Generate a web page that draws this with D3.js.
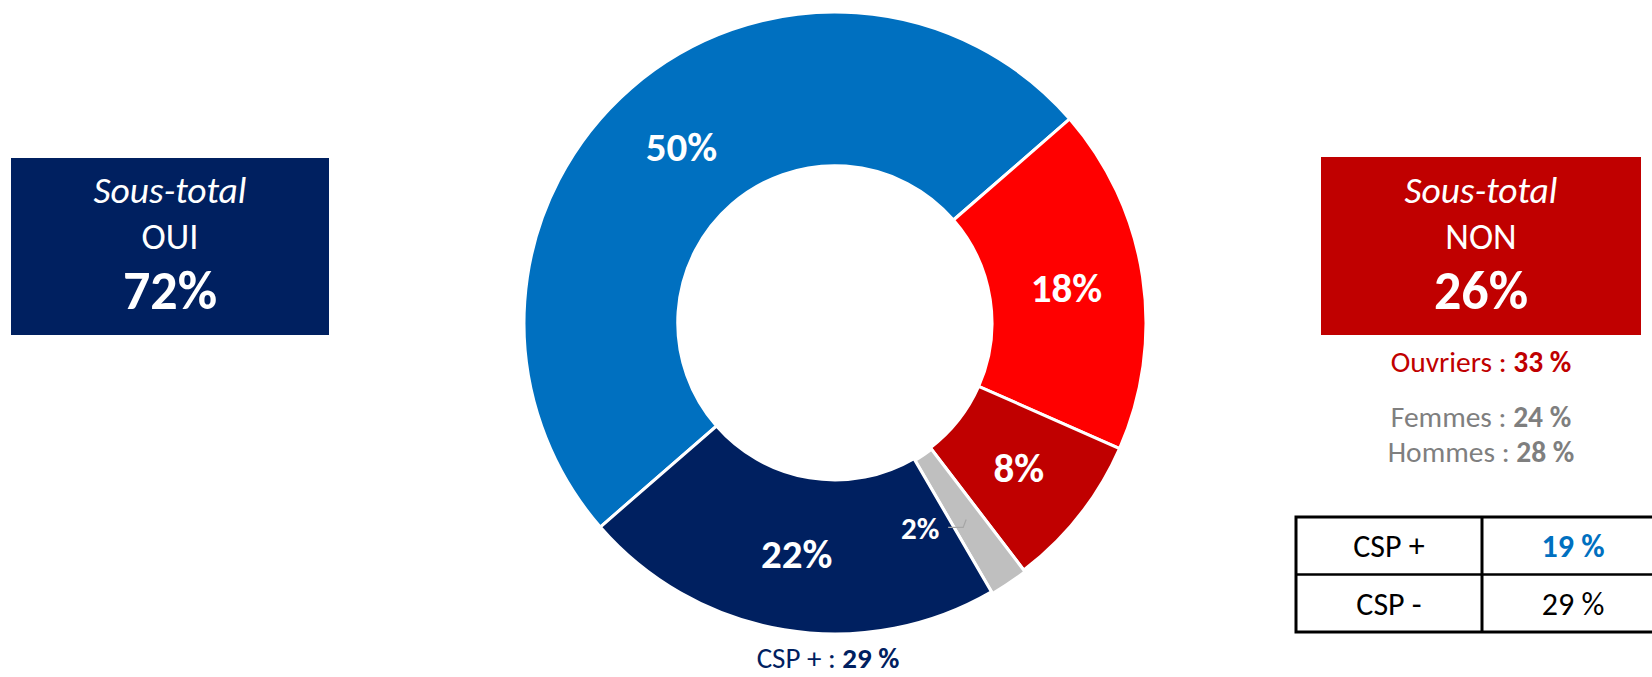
<!DOCTYPE html>
<html>
<head>
<meta charset="utf-8">
<script src="https://cdn.jsdelivr.net/npm/d3@7"></script>
<style>
  body { margin: 0; background: #fff; }
  svg { display: block; font-family: Carlito, Calibri, Lato, sans-serif; }
</style>
</head>
<body>
<div id="chart"></div>
<script>
'use strict';

// slice values (%), clockwise from the lower-left edge of the 50% slice
var sliceKeys = ["oui_1", "non_1", "non_2", "nsp", "oui_2"];
var sliceValues = [50, 18, 8, 2, 22];
var sliceColors = ["#0070C0", "#FF0000", "#C00000", "#BFBFBF", "#002060"];

// sub-totals
var subtotalLabels = ["OUI", "NON"];
var subtotalValues = [72, 26];

// details under NON box
var detailLabels = ["Ouvriers", "Femmes", "Hommes"];
var detailValues = [33, 24, 28];

// CSP table
var cspLabels = ["CSP +", "CSP -"];
var cspValues = [19, 29];

// note under the donut
var noteLabel = "CSP +";
var noteValue = 29;

var width = 1652, height = 677;
var cx = 835, cy = 323, outerR = 311, innerR = 157;

var svg = d3.select("#chart").append("svg")
    .attr("width", width)
    .attr("height", height);

// donut
var start = -131 * Math.PI / 180;
var pie = d3.pie().sort(null).value(function (d) { return d; })
    .startAngle(start).endAngle(start + 2 * Math.PI);
var arc = d3.arc().innerRadius(innerR).outerRadius(outerR);

var arcs = pie(sliceValues);
var g = svg.append("g").attr("transform", "translate(" + cx + "," + cy + ")");

g.selectAll("path.slice")
    .data(arcs)
    .enter().append("path")
    .attr("class", "slice")
    .attr("d", arc)
    .attr("transform", function (d, i) {
        if (sliceKeys[i] !== "nsp") return null;
        var a = (d.startAngle + d.endAngle) / 2;
        return "translate(" + (2 * Math.sin(a)) + "," + (-2 * Math.cos(a)) + ")";
    })
    .attr("fill", function (d, i) { return sliceColors[i]; })
    .attr("stroke", "#fff")
    .attr("stroke-width", 3);

// slice labels
arcs.forEach(function (d, i) {
    var c = arc.centroid(d);
    if (sliceKeys[i] === "nsp") {
        g.append("polyline")
            .attr("points", [[c[0] - 17, c[1] + 10], [c[0] - 2, c[1] + 10], [c[0] + 1, c[1] + 2]].join(" "))
            .attr("fill", "none")
            .attr("stroke", "#A6A6A6")
            .attr("stroke-width", 1.2);
        g.append("text")
            .attr("x", c[0] - 45).attr("y", c[1] + 11)
            .attr("dy", "0.35em")
            .attr("text-anchor", "middle")
            .attr("fill", "#fff")
            .attr("font-weight", "bold")
            .attr("font-size", 31)
            .text(sliceValues[i] + "%");
    } else {
        g.append("text")
            .attr("x", c[0]).attr("y", c[1])
            .attr("dy", "0.35em")
            .attr("text-anchor", "middle")
            .attr("fill", "#fff")
            .attr("font-weight", "bold")
            .attr("font-size", 41)
            .text(sliceValues[i] + "%");
    }
});

// sub-total boxes
var boxes = [
    { x: 11, y: 158, w: 318, h: 177, fill: "#002060" },
    { x: 1321, y: 157, w: 320, h: 178, fill: "#C00000" }
];
boxes.forEach(function (b, i) {
    var mx = b.x + b.w / 2;
    svg.append("rect")
        .attr("x", b.x).attr("y", b.y)
        .attr("width", b.w).attr("height", b.h)
        .attr("fill", b.fill);
    svg.append("text")
        .attr("x", mx).attr("y", 203)
        .attr("text-anchor", "middle")
        .attr("fill", "#fff")
        .attr("font-style", "italic")
        .attr("font-size", 37.5)
        .text("Sous-total");
    svg.append("text")
        .attr("x", mx).attr("y", 249)
        .attr("text-anchor", "middle")
        .attr("fill", "#fff")
        .attr("font-size", 36.5)
        .text(subtotalLabels[i]);
    svg.append("text")
        .attr("x", mx).attr("y", 309)
        .attr("text-anchor", "middle")
        .attr("fill", "#fff")
        .attr("font-weight", "bold")
        .attr("font-size", 54)
        .text(subtotalValues[i] + "%");
});

// detail lines under NON
var detailColors = ["#C00000", "#7F7F7F", "#7F7F7F"];
var detailY = [372, 427, 462];
detailLabels.forEach(function (lab, i) {
    var t = svg.append("text")
        .attr("x", 1481).attr("y", detailY[i])
        .attr("text-anchor", "middle")
        .attr("fill", detailColors[i])
        .attr("font-size", 29.5);
    t.append("tspan").text(lab + " : ");
    t.append("tspan").attr("font-weight", "bold").text(detailValues[i] + " %");
});

// CSP table
var tx = 1296, colW = [186, 182], rowH = 57.5, ty = 517;
var tbl = svg.append("g");
cspLabels.forEach(function (lab, i) {
    var y0 = ty + i * rowH;
    tbl.append("text")
        .attr("x", tx + colW[0] / 2).attr("y", y0 + 40)
        .attr("text-anchor", "middle")
        .attr("fill", "#000")
        .attr("font-size", 32)
        .text(lab);
    tbl.append("text")
        .attr("x", tx + colW[0] + 91).attr("y", y0 + 40)
        .attr("text-anchor", "middle")
        .attr("fill", i === 0 ? "#0070C0" : "#000")
        .attr("font-weight", i === 0 ? "bold" : "normal")
        .attr("font-size", 32)
        .text(cspValues[i] + " %");
});
tbl.append("rect")
    .attr("x", tx).attr("y", ty)
    .attr("width", colW[0] + colW[1]).attr("height", rowH * 2)
    .attr("fill", "none").attr("stroke", "#000").attr("stroke-width", 3);
tbl.append("line")
    .attr("x1", tx).attr("x2", tx + colW[0] + colW[1])
    .attr("y1", ty + rowH).attr("y2", ty + rowH)
    .attr("stroke", "#000").attr("stroke-width", 2.5);
tbl.append("line")
    .attr("x1", tx + colW[0]).attr("x2", tx + colW[0])
    .attr("y1", ty).attr("y2", ty + rowH * 2)
    .attr("stroke", "#000").attr("stroke-width", 3);

// note under the donut
var note = svg.append("text")
    .attr("x", 828).attr("y", 668)
    .attr("text-anchor", "middle")
    .attr("fill", "#002060")
    .attr("font-size", 29);
note.append("tspan").text(noteLabel + " : ");
note.append("tspan").attr("font-weight", "bold").text(noteValue + " %");
</script>
</body>
</html>
